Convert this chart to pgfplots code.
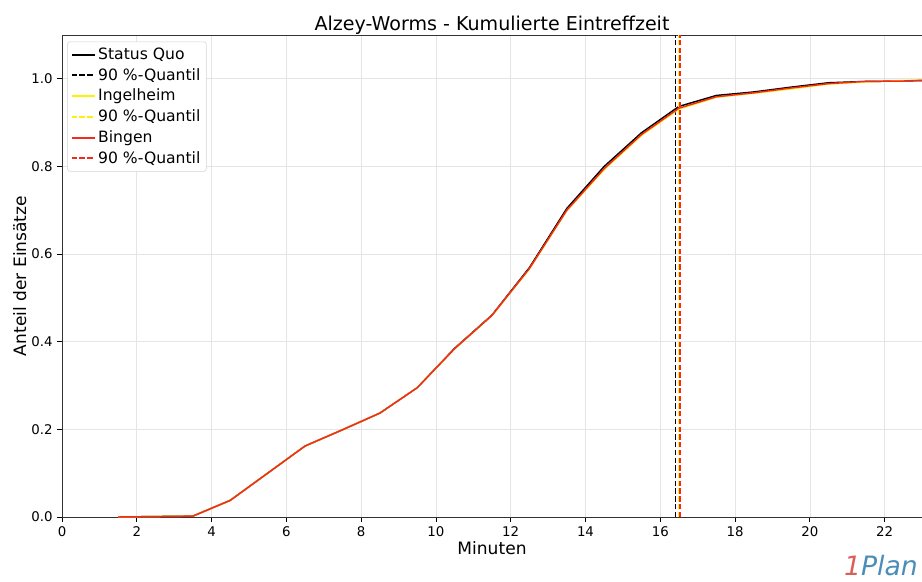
\documentclass[border=0pt]{standalone}
\usepackage{pgfplots}
\pgfplotsset{compat=1.18}
\usepackage{fontspec}
\setmainfont{DejaVu Sans}
\definecolor{logored}{HTML}{D9605A}
\definecolor{logoblue}{HTML}{4A8DB8}
\definecolor{bingen}{HTML}{F52A1E}

\begin{document}
\begin{tikzpicture}
\begin{axis}[
  scale only axis,
  width=645pt, height=361.5pt,
  xmin=0, xmax=23, ymin=0, ymax=1.1,
  xtick={0,2,...,22},
  ytick={0,0.2,...,1.0},
  /pgf/number format/assume math mode=true,
  yticklabel style={/pgf/number format/fixed,/pgf/number format/fixed zerofill,/pgf/number format/precision=1},
  ticklabel style={font=\fontsize{10}{12}\selectfont},
  tick align=outside, tick pos=left,
  major tick length=3.5pt,
  tick style={black, line width=0.6pt},
  axis line style={line width=0.6pt, black!80},
  grid=major,
  grid style={gray!20, line width=0.5pt},
  title={Alzey-Worms - Kumulierte Eintreffzeit},
  title style={font=\fontsize{14.3}{16}\selectfont, yshift=-9pt},
  xlabel={Minuten},
  ylabel={Anteil der Einsätze},
  label style={font=\fontsize{12.8}{15}\selectfont},
  xlabel style={yshift=3pt},
  ylabel style={yshift=-3pt},
  legend style={at={(0.006,0.9865)}, anchor=north west,
    font=\fontsize{11.7}{13}\selectfont,
    draw=gray!35, rounded corners=2pt, fill=white,
    row sep=1.2pt, inner sep=2.5pt},
  legend cell align=left,
  legend image post style={line width=1.5pt},
  every axis plot/.append style={line width=1.1pt},
]
\coordinate (sw) at (rel axis cs:0,0);
\coordinate (ne) at (rel axis cs:1,1);

\addplot[black] coordinates {
 (1.5,0) (2.5,0.001) (3.5,0.002) (4.5,0.038) (5.5,0.100) (6.5,0.162)
 (7.5,0.199) (8.5,0.237) (9.5,0.295) (10.5,0.385) (11.5,0.461) (12.5,0.569)
 (13.5,0.704) (14.5,0.800) (15.5,0.877) (16.5,0.937) (17.5,0.962) (18.5,0.970)
 (19.5,0.981) (20.5,0.991) (21.5,0.994) (22.5,0.995) (23.5,0.997)};
\addlegendentry{Status Quo}
\addplot[black, dash pattern=on 4pt off 1.8pt] coordinates {(16.41,0) (16.41,1.1)};
\addlegendentry{90 \%-Quantil}

\addplot[yellow] coordinates {
 (1.5,0) (2.5,0.001) (3.5,0.002) (4.5,0.038) (5.5,0.100) (6.5,0.162)
 (7.5,0.199) (8.5,0.237) (9.5,0.295) (10.5,0.384) (11.5,0.460) (12.5,0.566)
 (13.5,0.699) (14.5,0.793) (15.5,0.871) (16.5,0.931) (17.5,0.958) (18.5,0.967)
 (19.5,0.977) (20.5,0.988) (21.5,0.993) (22.5,0.996) (23.5,0.998)};
\addlegendentry{Ingelheim}
\addplot[yellow, dash pattern=on 4pt off 1.8pt] coordinates {(16.49,0) (16.49,1.1)};
\addlegendentry{90 \%-Quantil}

\addplot[bingen] coordinates {
 (1.5,0) (2.5,0.001) (3.5,0.002) (4.5,0.038) (5.5,0.100) (6.5,0.162)
 (7.5,0.199) (8.5,0.237) (9.5,0.295) (10.5,0.384) (11.5,0.460) (12.5,0.567)
 (13.5,0.700) (14.5,0.795) (15.5,0.873) (16.5,0.933) (17.5,0.959) (18.5,0.968)
 (19.5,0.979) (20.5,0.989) (21.5,0.994) (22.5,0.995) (23.5,0.998)};
\addlegendentry{Bingen}
\addplot[bingen, dash pattern=on 4pt off 1.8pt] coordinates {(16.53,0) (16.53,1.1)};
\addlegendentry{90 \%-Quantil}
\end{axis}
\node[anchor=south east, inner sep=0pt, font=\fontsize{20}{22}\selectfont\itshape]
  at ([shift={(-3pt,-44pt)}] sw -| ne) {\textcolor{logored}{1}\textcolor{logoblue}{Plan}};
\pgfresetboundingbox
\path ([shift={(-46.5pt,-48pt)}]sw) rectangle ([shift={(0pt,26.25pt)}]ne);
\end{tikzpicture}
\end{document}
